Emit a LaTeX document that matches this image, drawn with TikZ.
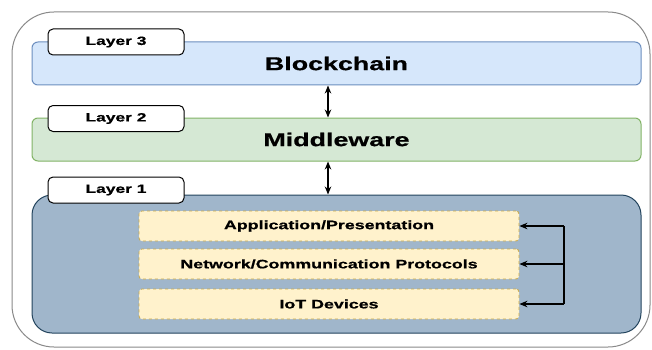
\documentclass[tikz,border=0pt]{standalone}
\usepackage{fontspec}
\setmainfont{Liberation Sans}
\newfontfamily\widefont[FakeStretch=1.45,FakeBold=0.8]{Liberation Sans}
\usetikzlibrary{arrows.meta}
\definecolor{bcfill}{HTML}{D6E7FB}
\definecolor{bcdraw}{HTML}{6C8EBF}
\definecolor{mwfill}{HTML}{D5E8D4}
\definecolor{mwdraw}{HTML}{82B366}
\definecolor{lofill}{HTML}{A0B6CB}
\definecolor{lodraw}{HTML}{23445D}
\definecolor{ylfill}{HTML}{FFF2CC}
\definecolor{yldraw}{HTML}{C9A94A}
\definecolor{outerdraw}{HTML}{8A8A8A}
\tikzset{
  x=1pt, y=-1pt,
  band/.style={draw, line width=1pt, rounded corners=6pt, minimum width=609pt, minimum height=43pt, inner sep=0pt,
    font=\widefont\bfseries\fontsize{18.5}{20}\selectfont},
  tag/.style={draw=black, fill=white, line width=1pt, rounded corners=5pt, minimum width=136pt, minimum height=26pt,
    inner sep=0pt, font=\widefont\bfseries\fontsize{12}{14}\selectfont},
  sub/.style={draw=yldraw, fill=ylfill, dashed, line width=0.8pt, rounded corners=3pt, minimum width=380pt,
    minimum height=30pt, inner sep=0pt, font=\widefont\bfseries\fontsize{12.3}{14}\selectfont},
  arr/.style={line width=1.3pt, -{Stealth[length=8pt,width=6.5pt]}},
  darr/.style={line width=1.3pt, {Stealth[length=8pt,width=6.5pt]}-{Stealth[length=8pt,width=6.5pt]}},
}
\begin{document}
\begin{tikzpicture}
\useasboundingbox (0,0) rectangle (652,350);
\fill[white] (0,0) rectangle (652,350);
% outer container
\draw[outerdraw, line width=1pt, rounded corners=42pt] (12,12) rectangle (650,347);
% layer 1 container
\node[draw=lodraw, fill=lofill, line width=1pt, rounded corners=20pt, minimum width=609pt, minimum height=138pt,
  inner sep=0pt] (l1) at (336.5,264) {};
% bands
\node[band, draw=bcdraw, fill=bcfill] (bc) at (336.5,63.5) {Blockchain};
\node[band, draw=mwdraw, fill=mwfill] (mw) at (336.5,139.5) {Middleware};
% tags
\node[tag] (t3) at (116,42) {Layer 3};
\node[tag] (t2) at (116,118.5) {Layer 2};
\node[tag] (t1) at (116,190) {Layer 1};
% sub layers
\node[sub] (app) at (329,226) {Application/Presentation};
\node[sub] (net) at (329,264) {Network/Communication Protocols};
\node[sub] (iot) at (329,304) {IoT Devices};
% vertical arrows
\draw[darr] ([xshift=-8.5pt]bc.south) -- ([xshift=-8.5pt]mw.north);
\draw[darr] ([xshift=-8.5pt]mw.south) -- ([xshift=-8.5pt]mw.south |- l1.north);
% bracket
\coordinate (br) at (564,0);
\draw[line width=1.3pt] (br |- app.east) -- (br |- iot.east);
\draw[arr] (br |- app.east) -- (app.east);
\draw[arr] (br |- net.east) -- (net.east);
\draw[arr] (br |- iot.east) -- (iot.east);
\end{tikzpicture}
\end{document}
